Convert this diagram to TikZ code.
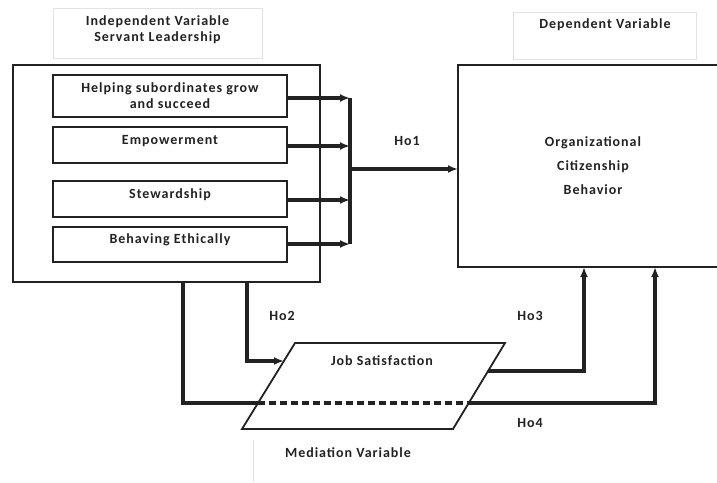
\documentclass[tikz,border=0pt]{standalone}
\usepackage{fontspec}
\setmainfont{Carlito}[LetterSpace=7]
\usetikzlibrary{arrows.meta}
\definecolor{ink}{HTML}{222222}
\definecolor{faint}{HTML}{E2E2E2}
\tikzset{
  box/.style={draw=ink,line width=1.8pt,inner sep=0pt,outer sep=0pt,align=center},
  tag/.style={draw=faint,line width=0.6pt,inner sep=0pt,outer sep=0pt,align=center},
  lbl/.style={text=ink,align=center,font=\bfseries\fontsize{14}{16}\selectfont},
  high/.style={text depth=11pt},
  arr/.style={draw=ink,line width=3.2pt,-{Latex[length=10pt,width=8pt]}},
  link/.style={draw=ink,line width=3.2pt},
}
\begin{document}
\begin{tikzpicture}[x=1pt,y=-1pt]
\useasboundingbox (0,0) rectangle (717,482);
\fill[white] (0,0) rectangle (717,482);

% variable tags
\node[tag,minimum width=209pt,minimum height=50pt](indep)at(157.5,33){};
\node[lbl](indeptxt)at(157.5,30){Independent Variable\\Servant Leadership};
\node[tag,minimum width=183pt,minimum height=47pt](dep)at(604.5,35.5){};
\node[lbl](deptxt)at(605,25){Dependent Variable};
\draw[faint,line width=0.6pt](253,440)--(253,482);
\node[lbl](medtxt)at(348,453){Mediation Variable};

% servant leadership
\node[box,minimum width=307pt,minimum height=217pt](sl)at(166.5,173.5){};
\node[box,minimum width=234pt,minimum height=42pt,lbl](help)at(170,96){Helping subordinates grow\\and succeed};
\node[box,minimum width=234pt,minimum height=36pt,lbl,high](emp)at(170,145){Empowerment};
\node[box,minimum width=234pt,minimum height=36pt,lbl,high](stew)at(170,199){Stewardship};
\node[box,minimum width=234pt,minimum height=35pt,lbl,high](eth)at(170,244.5){Behaving Ethically};

% organizational citizenship behavior
\node[box,minimum width=270pt,minimum height=202pt,lbl](ocb)at(593,166){Organizational\\[8pt]Citizenship\\[8pt]Behavior};

% job satisfaction
\coordinate(js1)at(295,343);
\coordinate(js2)at(505,343);
\coordinate(js3)at(453,429);
\coordinate(js4)at(242,429);
\draw[ink,line width=1.8pt](js1)--(js2)--(js3)--(js4)--cycle;
\node[lbl](js)at(382,361){Job Satisfaction};
\coordinate(jsin)at(284,361);
\coordinate(jsout)at(488,371);
\coordinate(dashL)at(258,403);
\coordinate(dashR)at(469,403);

% junction
\coordinate(jtop)at(350,98);
\coordinate(jbot)at(350,244);
\coordinate(jmid)at(350,169);
\foreach \n/\y in {help/98,emp/146,stew/200,eth/244}
  \draw[arr](\n.east|-0,\y)--(350,\y);
\draw[link](jtop)--(jbot);
\draw[arr](jmid)--(ocb.west|-jmid);

% hypotheses
\draw[arr](sl.south-|247,0)|-(jsin);
\draw[arr](jsout)-|(ocb.south-|584,0);
\draw[link](sl.south-|183,0)|-(dashL);
\draw[link,dash pattern=on 7pt off 4pt](dashL)--(dashR);
\draw[arr](dashR)-|(ocb.south-|655,0);

\node[lbl](ho1)at(407,141){Ho1};
\node[lbl](ho2)at(282,316){Ho2};
\node[lbl](ho3)at(530,316){Ho3};
\node[lbl](ho4)at(530,423){Ho4};
\end{tikzpicture}
\end{document}
